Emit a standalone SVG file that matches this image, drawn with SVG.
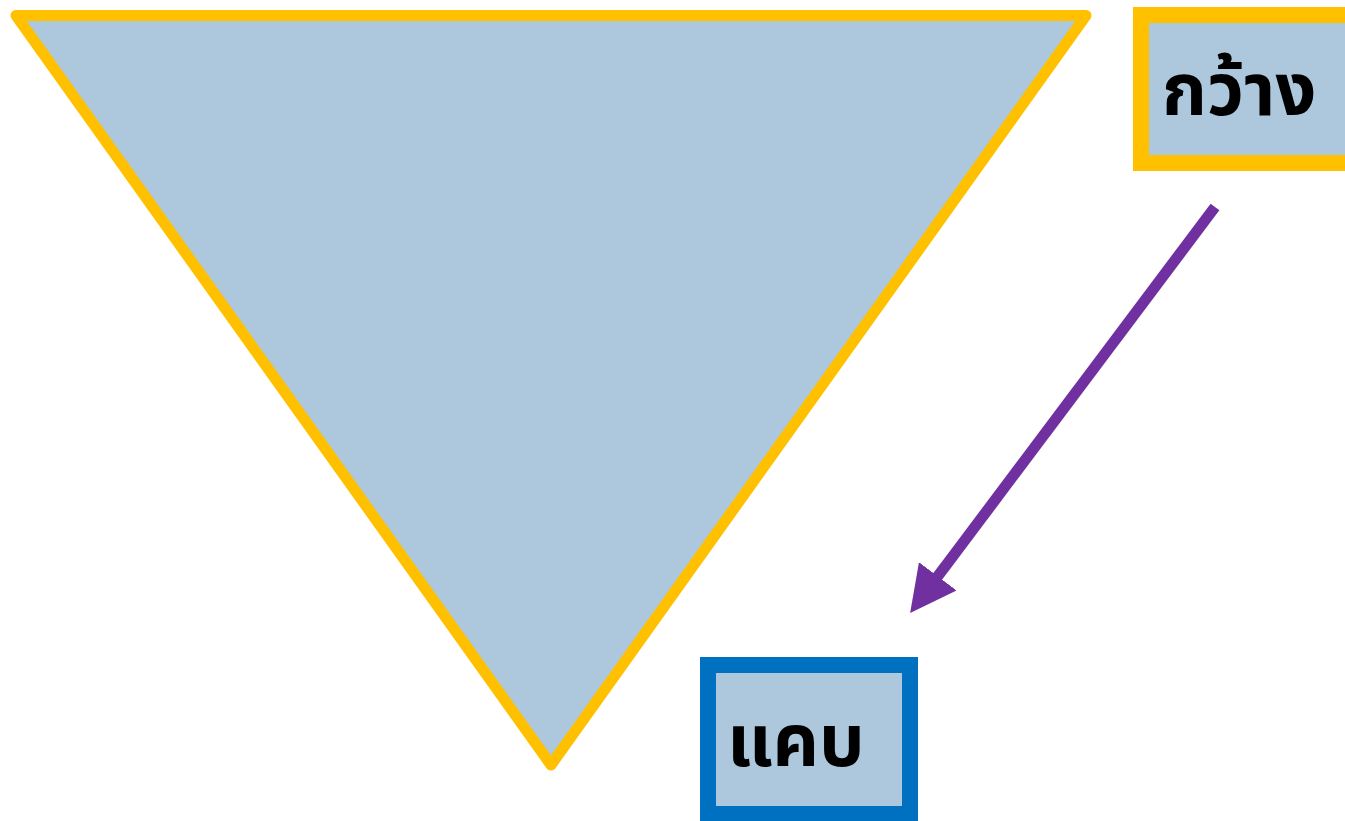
<svg xmlns="http://www.w3.org/2000/svg" width="1345" height="821" viewBox="0 0 1345 821">
<style>
.lbl{font-family:"Noto Sans Thai","Noto Sans","DejaVu Sans",sans-serif;font-size:72px;font-weight:bold;fill:#000}
.fill{fill:#ADC8DC}
</style>
<defs>
<marker id="ah" markerUnits="userSpaceOnUse" markerWidth="46" markerHeight="47" refX="4.6" refY="23.5" orient="auto">
<path d="M0,0 L46,23.5 L0,47 z" fill="#7030A0"/>
</marker>
</defs>
<rect width="1345" height="821" fill="#fff"/>
<g id="funnel">
<polygon class="fill" points="16,15.5 1086,15.5 551,765" stroke="#FFC000" stroke-width="11" stroke-linejoin="round"/>
</g>
<g id="wide">
<rect class="fill" x="1141" y="15" width="230" height="148" stroke="#FFC000" stroke-width="16"/>
<text class="lbl" x="1162" y="115">กว้าง</text>
</g>
<g id="narrow">
<rect class="fill" x="708" y="665" width="202" height="149" stroke="#0070C0" stroke-width="16"/>
<text class="lbl" x="727" y="766">แคบ</text>
</g>
<g id="connectors">
<line x1="1215" y1="207" x2="935" y2="580" stroke="#7030A0" stroke-width="11" marker-end="url(#ah)"/>
</g>
</svg>
